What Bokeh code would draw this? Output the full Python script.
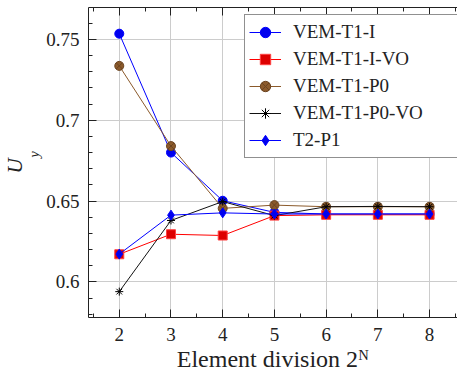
import math
from bokeh.plotting import figure
from bokeh.models import (LinearAxis, FixedTicker, CustomJSTickFormatter, Range1d, Title)
from bokeh.embed import file_html
from bokeh.resources import INLINE

# ---- data ----
N = [2, 3, 4, 5, 6, 7, 8]
vem_t1_i = [0.7535, 0.680, 0.6502, 0.643, 0.642, 0.642, 0.642]
vem_t1_i_vo = [0.6171, 0.6295, 0.6287, 0.641, 0.6415, 0.6415, 0.6415]
vem_t1_p0 = [0.7336, 0.684, 0.6455, 0.6475, 0.6465, 0.6465, 0.6465]
vem_t1_p0_vo = [0.594, 0.638, 0.6497, 0.641, 0.6465, 0.6467, 0.6465]
t2_p1 = [0.6172, 0.6413, 0.6427, 0.642, 0.642, 0.642, 0.642]

x_ticks = [2, 3, 4, 5, 6, 7, 8]
x_minor = [1.5, 2.5, 3.5, 4.5, 5.5, 6.5, 7.5, 8.5]
y_ticks = [0.6, 0.65, 0.7, 0.75]
y_minor = [0.58, 0.59, 0.61, 0.62, 0.63, 0.64, 0.66, 0.67, 0.68, 0.69,
           0.71, 0.72, 0.73, 0.74, 0.76]

FONT = "'Liberation Serif', 'DejaVu Serif'"
AXC = "#222222"

p = figure(width=457, height=376, output_backend="svg", toolbar_location=None,
           x_range=Range1d(1.405, 8.54), y_range=Range1d(0.578, 0.7697),
           min_border_left=88, min_border_right=0, min_border_top=7,
           min_border_bottom=59)
p.outline_line_color = None
p.background_fill_color = "white"
p.border_fill_color = "white"

bottom = p.below[0]
left = p.left[0]

def style_axis(ax):
    ax.axis_line_color = AXC
    ax.major_tick_line_color = AXC
    ax.minor_tick_line_color = AXC
    ax.major_tick_in = 8
    ax.major_tick_out = 0
    ax.minor_tick_in = 4
    ax.minor_tick_out = 0
    ax.major_label_text_font = FONT
    ax.major_label_text_color = "#222222"
    ax.major_label_text_font_size = "19px"
    ax.major_label_standoff = 9

bottom.ticker = FixedTicker(ticks=x_ticks, minor_ticks=x_minor)
left.ticker = FixedTicker(ticks=y_ticks, minor_ticks=y_minor)
left.formatter = CustomJSTickFormatter(code="return String(Math.round(tick*100)/100);")
style_axis(bottom)
style_axis(left)
bottom.major_label_standoff = 10
left.major_label_standoff = 9

top = LinearAxis(ticker=FixedTicker(ticks=x_ticks, minor_ticks=x_minor),
                 formatter=CustomJSTickFormatter(code="return '';"))
style_axis(top)
top.major_label_standoff = 0
top.major_label_text_font_size = "1px"
p.add_layout(top, "above")

bottom.axis_label = "Element division 2ᴺ"
bottom.axis_label_text_font = FONT
bottom.axis_label_text_font_size = "24px"
bottom.axis_label_text_font_style = "normal"
bottom.axis_label_text_color = "#222222"
bottom.axis_label_standoff = 2

# y-axis label U_y built from two titles in the left panel
t_sub = Title(text="y", align="left", offset=160, standoff=0,
              text_font=FONT, text_font_size="14px", text_font_style="italic",
              text_color="#222222", vertical_align="top")
t_main = Title(text="U", align="left", offset=144, standoff=0,
               text_font=FONT, text_font_size="21px", text_font_style="italic",
               text_color="#222222", vertical_align="bottom")
p.add_layout(t_sub, "left")
p.add_layout(t_main, "left")

p.xgrid.ticker = FixedTicker(ticks=x_ticks)
p.ygrid.ticker = FixedTicker(ticks=y_ticks)
p.grid.grid_line_color = "#cccccc"
p.grid.grid_line_width = 1

# series
p.line(N, vem_t1_i, color="#0000ff", line_width=1, legend_label="VEM-T1-I")
p.scatter(N, vem_t1_i, marker="circle", size=9, fill_color="#0000ee",
          line_color="#0000ff", legend_label="VEM-T1-I")

p.line(N, vem_t1_i_vo, color="#ff0000", line_width=1, legend_label="VEM-T1-I-VO")
p.scatter(N, vem_t1_i_vo, marker="square", size=9, fill_color="#dd0000",
          line_color="#ff4040", legend_label="VEM-T1-I-VO")

p.line(N, vem_t1_p0, color="#8b5a2b", line_width=1, legend_label="VEM-T1-P0")
p.scatter(N, vem_t1_p0, marker="circle_x", size=9, fill_color="#8b5a2b",
          line_color="#6a4320", legend_label="VEM-T1-P0")

p.line(N, vem_t1_p0_vo, color="#111111", line_width=1, legend_label="VEM-T1-P0-VO")
p.scatter(N, vem_t1_p0_vo, marker="asterisk", size=8, line_color="#000000",
          line_width=1, legend_label="VEM-T1-P0-VO")

p.line(N, t2_p1, color="#0000ff", line_width=1, legend_label="T2-P1")
p.scatter(N, t2_p1, marker="diamond", size=10, fill_color="#0000ee",
          line_color="#0000ff", legend_label="T2-P1")

lg = p.legend[0]
lg.location = (156, 159)
lg.label_text_font = FONT
lg.label_text_font_size = "19px"
lg.label_text_color = "#222222"
lg.border_line_color = "#222222"
lg.border_line_width = 1
lg.background_fill_color = "white"
lg.background_fill_alpha = 1
lg.padding = 4
lg.margin = 0
lg.spacing = 1
lg.glyph_width = 32
lg.glyph_height = 26
lg.label_height = 26
lg.label_standoff = 12
lg.label_width = 220

open("out.html", "w").write(file_html(p, INLINE))
